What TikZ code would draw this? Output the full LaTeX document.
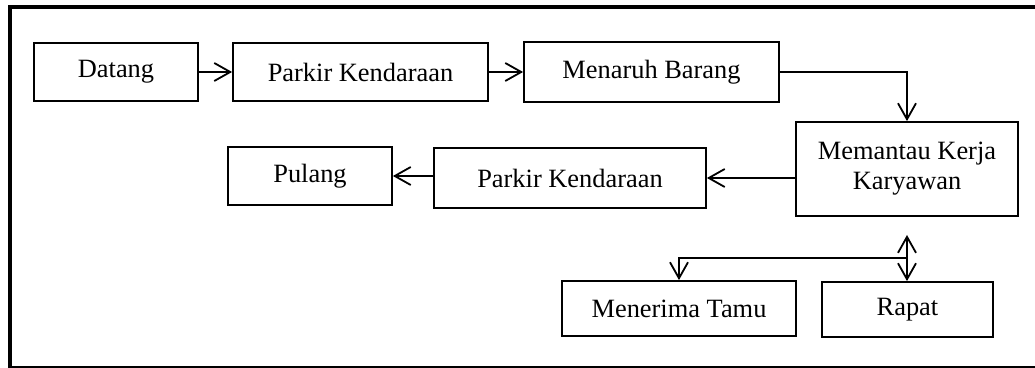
\documentclass[tikz,border=0pt]{standalone}
\usepackage{fontspec}
\setmainfont{Liberation Serif}
\usetikzlibrary{arrows.meta}
\begin{document}
\begin{tikzpicture}[x=0.5pt,y=-0.5pt,
  box/.style={draw,line width=0.9pt,inner sep=0pt,font=\fontsize{13.2pt}{15pt}\selectfont,align=center},
  conn/.style={line width=0.9pt,-{Straight Barb[length=8pt,width=9pt,line width=0.9pt]}},
  frameline/.style={line width=2pt}]
\useasboundingbox (0,0) rectangle (1035,368);
% frame
\draw[frameline] (10,368) -- (10,7) -- (1035,7);
\draw[line width=1pt] (10,367) -- (1035,367);
% boxes
\node[box,minimum width=82pt,minimum height=29pt] (datang) at (116,72) {Datang};
\node[box,minimum width=127.5pt,minimum height=29pt] (parkir1) at (360.5,72) {Parkir Kendaraan};
\node[box,minimum width=127.5pt,minimum height=30pt] (menaruh) at (651.5,72) {Menaruh Barang};
\node[box,minimum width=111pt,minimum height=47pt] (memantau) at (907,169) {Memantau Kerja\\Karyawan};
\node[box,minimum width=136pt,minimum height=30pt] (parkir2) at (570,178) {Parkir Kendaraan};
\node[box,minimum width=82pt,minimum height=29pt] (pulang) at (310,176) {Pulang};
\node[box,minimum width=117pt,minimum height=27.5pt] (tamu) at (679,308.5) {Menerima Tamu};
\node[box,minimum width=85.5pt,minimum height=27.5pt] (rapat) at (907.5,309.5) {Rapat};
% connectors
\draw[conn] (datang) -- (parkir1);
\draw[conn] (parkir1) -- (menaruh);
\draw[conn] (menaruh.east) -| (memantau.north);
\draw[conn] (memantau.west |- parkir2.east) -- (parkir2.east);
\draw[conn] (parkir2.west |- pulang.east) -- (pulang.east);
\coordinate (top) at (907,235);
\coordinate (split) at (907,258);
\draw[conn,{Straight Barb[length=8pt,width=9pt,line width=0.9pt]}-{Straight Barb[length=8pt,width=9pt,line width=0.9pt]}] (top) -- (top |- rapat.north);
\draw[conn] (split) -| (tamu.north);
\end{tikzpicture}
\end{document}
